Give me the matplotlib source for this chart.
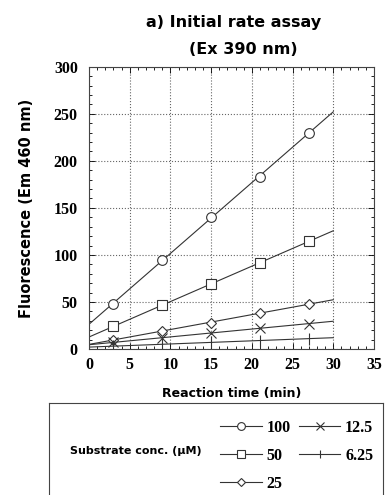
import matplotlib
matplotlib.use("Agg")
import matplotlib.pyplot as plt
import numpy as np
from matplotlib.ticker import MultipleLocator

# reaction times (min) and fluorescence for each substrate conc. (uM)
times = [3, 9, 15, 21, 27]
conc_labels = ['100', '50', '25', '12.5', '6.25']
f_100 = [48, 95, 140, 183, 230]
f_50 = [24, 47, 69, 91, 115]
f_25 = [10, 19, 28, 38, 48]
f_12 = [7, 12, 17, 22, 27]
f_6 = [3, 5, 7, 9, 11]
series = [f_100, f_50, f_25, f_12, f_6]
markers = ['o', 's', 'D', 'x', '|']
msizes = [7, 7, 5.5, 7, 8]

fit_t = np.array([0, 30])

fig = plt.figure(figsize=(3.9, 4.95), dpi=100)
ax = fig.add_axes([0.228, 0.295, 0.731, 0.57])

tick_font = 'Liberation Serif'

handles = []
for y, m, ms, lab in zip(series, markers, msizes, conc_labels):
    k, b = np.polyfit(times, y, 1)
    ax.plot(fit_t, k * fit_t + b, color='#333333', lw=0.8)
    ax.plot(times, y, linestyle='none', marker=m, ms=ms, mfc='white',
            mec='#333333', mew=0.8)
    h, = ax.plot([], [], color='#333333', lw=0.8, marker=m, ms=ms * 0.8,
                 mfc='white', mec='#333333', mew=0.8, label=lab)
    handles.append(h)

ax.set_xlim(0, 35)
ax.set_ylim(0, 300)
ax.xaxis.set_major_locator(MultipleLocator(5))
ax.xaxis.set_minor_locator(MultipleLocator(1))
ax.yaxis.set_major_locator(MultipleLocator(50))
ax.yaxis.set_minor_locator(MultipleLocator(10))
ax.tick_params(which='both', direction='in', top=True, right=True, width=0.6)
ax.tick_params(which='major', length=4, labelsize=11.5)
ax.tick_params(which='minor', length=2)
ax.tick_params(axis='y', pad=8)
ax.tick_params(axis='x', pad=6)
for t in ax.get_xticklabels() + ax.get_yticklabels():
    t.set_fontfamily(tick_font)
    t.set_fontweight('bold')
ax.grid(True, which='major', linestyle=':', color='#666666', lw=0.8)
for s in ax.spines.values():
    s.set_linewidth(0.8)
    s.set_color('#444444')

ax.set_xlabel('Reaction time (min)', labelpad=10, family='DejaVu Sans',
              weight='bold', fontsize=9)
ax.set_ylabel('Fluorescence (Em 460 nm)', labelpad=14, family='DejaVu Sans',
              weight='bold', fontsize=10.5)

fig.text(0.6, 0.955, 'a) Initial rate assay', ha='center', va='center',
         family='DejaVu Sans', weight='bold', fontsize=11.5)
fig.text(0.623, 0.9, '(Ex 390 nm)', ha='center', va='center',
         family='DejaVu Sans', weight='bold', fontsize=11.5)

# legend box
box = fig.add_axes([0.126, -0.01, 0.856, 0.196])
box.set_xticks([])
box.set_yticks([])
for s in box.spines.values():
    s.set_linewidth(0.8)
    s.set_color('#444444')
box.text(0.26, 0.5, 'Substrate conc. (\u03bcM)', ha='center', va='center',
         transform=box.transAxes, family='DejaVu Sans', weight='bold',
         fontsize=8)
leg = box.legend(handles=handles, ncol=2, loc='center left',
                 bbox_to_anchor=(0.47, 0.455), frameon=False,
                 prop=dict(family=tick_font, weight='bold', size=11.5),
                 handlelength=2.6, columnspacing=0.5, handletextpad=0.3,
                 labelspacing=0.75)

fig.savefig('out.png', dpi=100)
